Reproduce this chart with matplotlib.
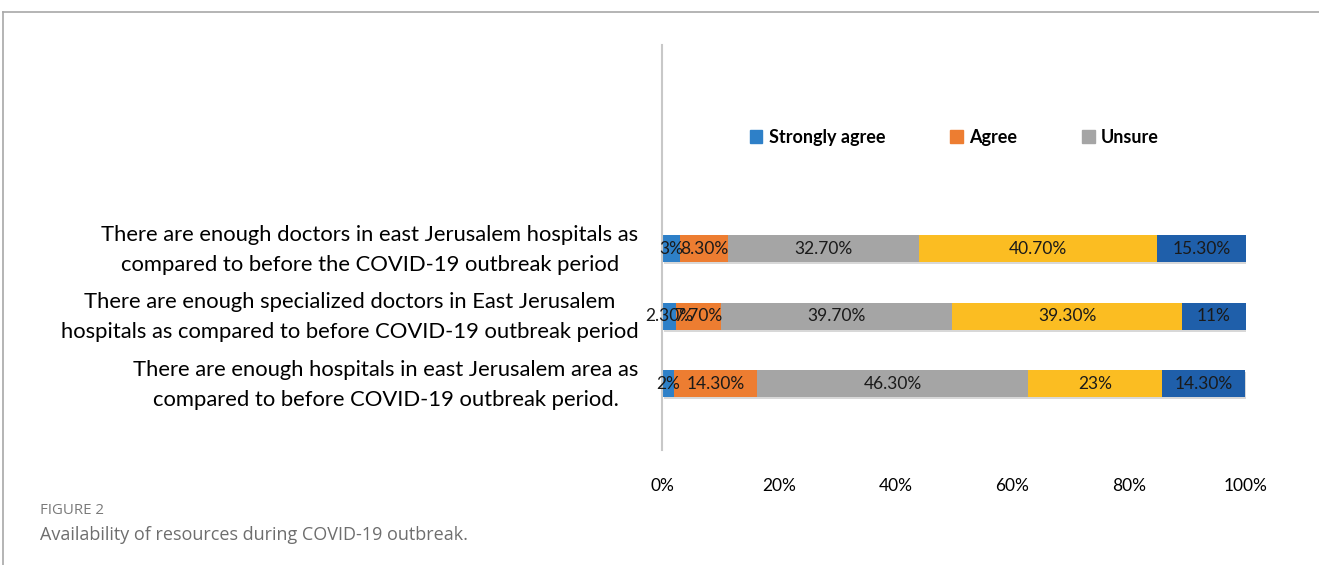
import matplotlib
matplotlib.use('Agg')
import matplotlib.pyplot as plt
import matplotlib.transforms as mtransforms
from matplotlib.lines import Line2D
from matplotlib.patches import Patch
import numpy as np

categories = [
    "There are enough hospitals in east Jerusalem area as\ncompared to before COVID-19 outbreak period.",
    "There are enough specialized doctors in East Jerusalem\nhospitals as compared to before COVID-19 outbreak period",
    "There are enough doctors in east Jerusalem hospitals as\ncompared to before the COVID-19 outbreak period",
]
series_names = ["Strongly agree", "Agree", "Unsure", "Disagree", "Strongly disagree"]
strongly_agree = [2, 2.3, 3]
agree = [14.3, 7.7, 8.3]
unsure = [46.3, 39.7, 32.7]
disagree = [23, 39.3, 40.7]
strongly_disagree = [14.3, 11, 15.3]
xticks = [0, 20, 40, 60, 80, 100]

colors = ["#2E80C8", "#ED7D31", "#A5A5A5", "#FBBD22", "#1F5FAA"]
font = "Lato"

fig = plt.figure(figsize=(13.19, 5.65), dpi=100)
ax = fig.add_axes([0.502, 0.2035, 0.4427, 0.7165])

data = np.array([strongly_agree, agree, unsure, disagree, strongly_disagree])
ypos = np.arange(len(categories))
left = np.zeros(len(categories))
for vals, col in zip(data, colors):
    # shadow
    ax.barh(ypos - 0.03, vals, left=left + 0.3, height=0.4, color="#d8d8d8", zorder=1)
    ax.barh(ypos, vals, left=left, height=0.4, color=col, zorder=2)
    for y, v, l in zip(ypos, vals, left):
        lab = f"{int(v)}%" if float(v).is_integer() else f"{v:.2f}%"
        ax.text(l + v / 2, y, lab, ha="center", va="center", fontsize=12.5,
                color="#1a1a1a", family=font, zorder=3)
    left = left + vals

ax.set_xlim(0, 100)
ax.set_ylim(-0.98, 5.02)
ax.set_yticks(ypos)
ax.set_yticklabels(categories, fontsize=15.8, family=font, multialignment="center",
                   linespacing=1.6)
ax.tick_params(axis="y", length=0, pad=17)
# nudge the category labels up a little
shift = mtransforms.ScaledTranslation(0, 6 / 100, fig.dpi_scale_trans)
for t in ax.get_yticklabels():
    t.set_transform(t.get_transform() + shift)
ax.set_xticks(xticks)
ax.set_xticklabels([f"{t}%" for t in xticks], fontsize=12.5, family=font)
ax.tick_params(axis="x", length=0, pad=20)
for s in ["top", "right", "bottom"]:
    ax.spines[s].set_visible(False)
ax.spines["left"].set_color("#C8C8C8")
ax.spines["left"].set_linewidth(1.5)

handles = [Patch(color=c) for c in colors[:3]]
fig.legend(handles, series_names[:3], loc="center", bbox_to_anchor=(0.7235, 0.757),
           ncol=3, frameon=False, handlelength=0.7, handleheight=0.7,
           columnspacing=3.6, handletextpad=0.35,
           prop={"family": font, "weight": "bold", "size": 13})

# frame lines
fig.add_artist(Line2D([0.0023, 1], [1 - 12 / 565] * 2, color="#A8A8A8", lw=1.2))
fig.add_artist(Line2D([0.0023, 0.0023], [0, 1 - 12 / 565], color="#A8A8A8", lw=1.2))

fig.text(40 / 1319, 1 - 511 / 565, "FIGURE 2", fontsize=10.8, color="#7a7a7a",
         family="Open Sans", va="center")
fig.text(40 / 1319, 1 - 535 / 565, "Availability of resources during COVID-19 outbreak.",
         fontsize=13, color="#6e6e6e", family="Open Sans", va="center")

fig.savefig("out.png", dpi=100)
